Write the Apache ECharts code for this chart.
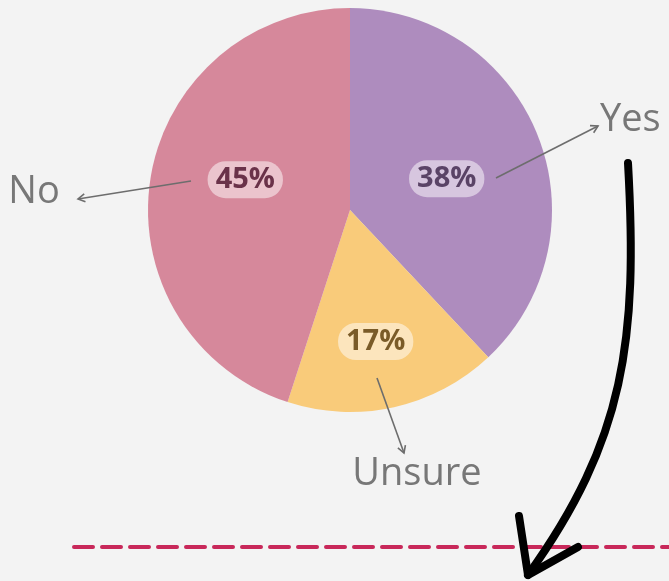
<!DOCTYPE html>
<html>
<head>
<meta charset="utf-8">
<script src="https://cdn.jsdelivr.net/npm/echarts@6/dist/echarts.min.js"></script>
<style>
html,body{margin:0;padding:0;background:#f3f3f3;}
#c{width:669px;height:581px;}
</style>
</head>
<body>
<div id="c"></div>
<script>
const categories = ['Yes', 'Unsure', 'No'];
const values = [38, 17, 45];
const sliceColors = ['#ae8cbe', '#f9cb7a', '#d6889b'];
const labelTextColors = ['#5a4366', '#7a5b28', '#6a3249'];
const labelOffsets = [[0, 7], [3, 30], [-2, -14]];

const chart = echarts.init(document.getElementById('c'), null, {renderer: 'canvas'});

function arrowHead(x1, y1, x2, y2, len) {
  const a = Math.atan2(y2 - y1, x2 - x1);
  const s = Math.PI / 6;
  return [
    [x2 - len * Math.cos(a - s), y2 - len * Math.sin(a - s)],
    [x2, y2],
    [x2 - len * Math.cos(a + s), y2 - len * Math.sin(a + s)]
  ];
}
const annoColor = '#6d6d6d';
const leaders = [
  [496, 178, 598, 126],
  [377, 378, 404, 453],
  [191, 181, 78, 199]
];
const graphics = [];
leaders.forEach(function (l) {
  graphics.push({type: 'line', shape: {x1: l[0], y1: l[1], x2: l[2], y2: l[3]},
    style: {stroke: annoColor, lineWidth: 1.6}, z: 10});
  graphics.push({type: 'polyline', shape: {points: arrowHead(l[0], l[1], l[2], l[3], 8)},
    style: {stroke: annoColor, lineWidth: 1.6, fill: null}, z: 10});
});
const txtStyle = {fill: '#777777', fontSize: 38, fontFamily: 'Open Sans', fontWeight: 'normal'};
graphics.push({type: 'text', x: 600, y: 120, style: Object.assign({text: categories[0], align: 'left', verticalAlign: 'middle'}, txtStyle)});
graphics.push({type: 'text', x: 417, y: 474, style: Object.assign({text: categories[1], align: 'center', verticalAlign: 'middle'}, txtStyle)});
graphics.push({type: 'text', x: 34, y: 192, style: Object.assign({text: categories[2], align: 'center', verticalAlign: 'middle'}, txtStyle)});
// dashed divider
graphics.push({type: 'line', shape: {x1: 74, y1: 547, x2: 680, y2: 547},
  style: {stroke: '#c8285a', lineWidth: 4, lineDash: [19, 9], lineCap: 'round'}, z: 5});
// hand-drawn arrow
graphics.push({type: 'bezierCurve', shape: {x1: 628, y1: 163, cpx1: 638, cpy1: 340, cpx2: 625, cpy2: 440, x2: 528, y2: 575},
  style: {stroke: '#000', lineWidth: 8, lineCap: 'round', fill: null}, z: 20});
graphics.push({type: 'polyline', shape: {points: [[519, 516], [528, 575], [578, 547]]},
  style: {stroke: '#000', lineWidth: 8, lineCap: 'round', lineJoin: 'round', fill: null}, z: 20});

chart.setOption({
  backgroundColor: '#f3f3f3',
  animation: false,
  series: [{
    type: 'pie',
    center: [350, 210],
    radius: [0, 202],
    startAngle: 90,
    clockwise: true,
    avoidLabelOverlap: false,
    labelLine: {show: false},
    emphasis: {disabled: true},
    data: categories.map(function (c, i) {
      return {
        name: c,
        value: values[i],
        itemStyle: {color: sliceColors[i]},
        label: {
          show: true,
          position: 'inside',
          formatter: '{c}%',
          offset: labelOffsets[i],
          color: labelTextColors[i],
          fontFamily: 'Open Sans',
          fontWeight: 'bold',
          fontSize: 29,
          lineHeight: 30,
          backgroundColor: 'rgba(255,255,255,0.5)',
          borderRadius: 18,
          padding: [4, 8, 3, 8]
        }
      };
    })
  }],
  graphic: graphics
});
</script>
</body>
</html>
